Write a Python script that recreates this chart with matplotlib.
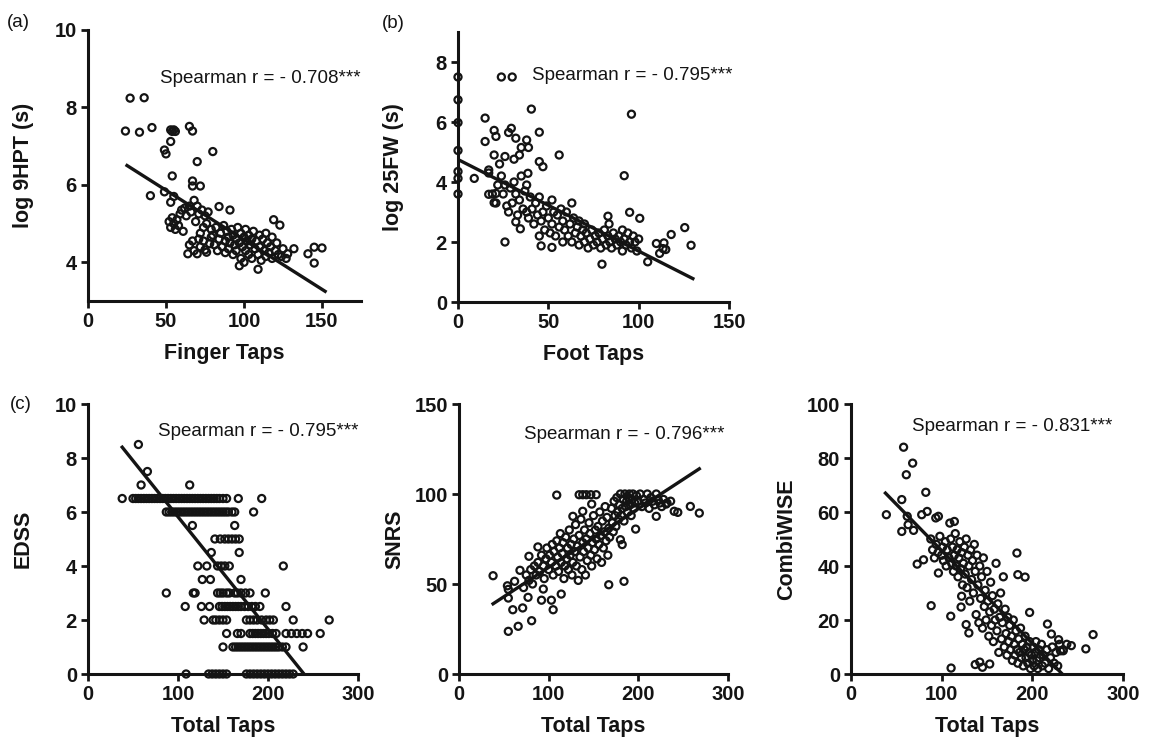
import numpy as np
import matplotlib
matplotlib.use('Agg')
import matplotlib.pyplot as plt
from matplotlib import font_manager

plt.rcParams['font.family'] = ['Liberation Sans', 'DejaVu Sans']

# the numbers in the original are set in a narrow bold face; use it if installed
try:
    font_manager.findfont('Liberation Sans Narrow', fallback_to_default=False)
    TICK_FONT, TICK_SIZE = ['Liberation Sans Narrow', 'Liberation Sans'], 17
except ValueError:
    TICK_FONT, TICK_SIZE = ['Liberation Sans', 'DejaVu Sans'], 14.5

# figure size in pixels (dpi 100)
W, H = 1152, 738
INK = '#141414'

# ---------------- data ----------------
# (a) Finger Taps vs log 9HPT
a_pts = [(24, 7.39), (27, 8.24), (33, 7.36), (36, 8.25), (41, 7.48), (40, 5.72), (49, 5.82),
         (49, 6.90), (50, 6.80), (53, 7.42), (54, 7.38), (55, 7.42), (56, 7.38), (53, 7.12),
         (54, 6.23), (53, 5.55), (55, 5.70), (65, 7.51), (67, 7.39), (70, 6.60), (67, 6.10),
         (67, 5.97), (72, 5.97), (80, 6.86),
         (52, 5.05), (53, 4.90), (54, 5.15), (55, 5.00), (56, 4.85), (57, 5.10), (58, 4.95),
         (59, 5.25), (60, 5.35), (61, 4.80), (62, 5.40), (63, 5.20), (65, 5.45), (66, 5.30),
         (68, 5.60), (69, 5.05), (70, 5.45), (71, 5.25), (72, 4.75), (73, 5.35), (74, 4.90),
         (75, 5.20), (76, 5.00), (77, 5.30), (79, 4.85),
         (64, 4.22), (65, 4.45), (67, 4.55), (68, 4.30), (70, 4.22), (71, 4.60), (72, 4.40),
         (74, 4.55), (75, 4.32), (76, 4.26), (78, 4.48), (79, 4.65),
         (80, 4.70), (81, 4.45), (82, 4.90), (83, 4.30), (84, 5.44), (84, 4.60), (85, 4.75),
         (86, 4.40), (87, 4.95), (88, 4.55), (88, 4.25), (89, 4.80), (90, 4.65), (90, 4.35),
         (91, 5.35), (91, 4.50), (92, 4.85), (93, 4.20), (93, 4.70), (94, 4.45), (95, 4.60),
         (95, 4.30), (96, 4.90), (97, 4.50), (97, 3.91), (98, 4.75), (98, 4.10), (99, 4.40),
         (100, 4.65), (100, 4.00), (101, 4.85), (101, 4.30), (102, 4.55), (103, 4.20),
         (103, 4.70), (104, 4.45), (105, 4.60), (105, 4.10), (106, 4.80), (107, 4.35),
         (108, 4.55), (109, 3.82), (109, 4.20), (110, 4.70), (110, 4.40), (111, 4.05),
         (112, 4.60), (113, 4.30), (114, 4.75), (114, 4.15), (115, 4.50), (116, 4.25),
         (117, 4.40), (118, 4.65), (118, 4.10), (119, 5.10), (120, 4.30), (121, 4.50),
         (122, 4.20), (123, 4.96), (124, 4.15), (125, 4.35), (127, 4.10), (128, 4.22),
         (132, 4.35), (141, 4.22), (145, 3.98), (145, 4.39), (150, 4.37)]
a_fit_x = [25, 152]
a_fit_y = [6.5, 3.25]

# (b) Foot Taps vs log 25FW
b_pts = [(0, 7.5), (0, 6.74), (0, 5.98), (0, 5.05), (0, 4.35), (0, 4.12), (0, 3.6),
         (9, 4.12), (15, 6.13), (15, 5.35), (17, 4.4), (17, 3.59), (20, 4.9), (20, 5.72),
         (21, 5.52), (20, 3.31), (21, 3.62), (23, 4.6), (24, 7.5), (26, 4.85), (30, 7.5),
         (28, 5.65), (29.5, 5.79), (26, 2.0), (32, 5.46), (35, 5.15), (31, 4.76), (34, 4.9),
         (38, 5.4), (40.6, 6.43), (39, 5.15), (38.7, 4.29), (45, 5.66), (47, 4.51), (45, 4.68),
         (46, 1.87), (56, 4.9), (52, 1.82), (32, 2.67), (34.5, 2.44), (96, 6.26), (92, 4.21),
         (95, 2.99), (100.6, 2.79), (83, 2.86), (83.6, 2.6), (79.7, 1.26), (118, 2.25),
         (125.5, 2.48), (129, 1.89), (105, 1.34), (111.6, 1.62), (109.8, 1.95), (114, 1.97),
         (113.5, 1.78), (115, 1.75),
         (17, 4.3), (19, 3.6), (21, 3.3), (22, 3.9), (24, 4.2), (25, 3.6), (26, 3.9), (27, 3.2),
         (28, 3.0), (29, 3.8), (30, 3.3), (31, 4.0), (32, 3.6), (33, 2.9), (34, 3.4), (35, 4.2),
         (36, 3.1), (37, 3.7), (38, 3.0), (38, 3.9), (39, 2.8), (40, 3.5),
         (41, 3.1), (42, 2.6), (43, 3.3), (44, 2.9), (45, 2.2), (45, 3.5), (46, 2.7), (47, 3.0),
         (48, 2.4), (49, 3.2), (50, 2.8), (51, 2.3), (52, 3.4), (52, 2.6), (53, 3.0), (54, 2.2),
         (55, 2.9), (56, 2.5), (57, 3.1), (58, 2.0), (58, 2.7), (59, 2.4), (60, 3.0),
         (61, 2.2), (62, 2.6), (63, 3.3), (63, 2.0), (64, 2.8), (65, 2.3), (66, 2.5), (67, 1.9),
         (67, 2.7), (68, 2.2), (69, 2.4), (70, 2.0), (70, 2.6), (71, 2.3), (72, 1.8), (73, 2.1),
         (74, 2.4), (75, 1.9), (76, 2.2), (77, 2.0), (78, 2.3), (79, 1.8), (80, 2.1),
         (81, 2.4), (82, 1.9), (83, 2.2), (84, 2.0), (85, 1.8), (86, 2.3), (87, 2.1), (88, 1.9),
         (89, 2.2), (90, 2.0), (91, 1.7), (91, 2.4), (92, 2.1), (93, 1.9), (94, 2.3), (95, 2.0),
         (96, 1.8), (97, 2.2), (98, 2.0), (99, 1.7), (100, 2.1)]
b_fit_x = [0, 130]
b_fit_y = [4.75, 0.78]

# (c) Total Taps vs EDSS, one row per EDSS step
edss_rows = {
    8.5: [56],
    7.5: [66],
    7.0: [59, 113],
    6.5: [38, 50, 53, 56, 59, 62, 65, 68, 71, 74, 77, 80, 83, 86, 89, 92, 95, 98, 101, 104,
          107, 110, 113, 116, 119, 122, 125, 128, 131, 134, 137, 140, 143, 146, 150, 154,
          167, 193],
    6.0: [87, 90, 93, 96, 99, 102, 105, 108, 111, 114, 117, 120, 123, 126, 129, 132, 135,
          138, 141, 144, 147, 150, 153, 156, 160, 163, 184],
    5.5: [116, 163],
    5.0: [141, 147, 152, 156, 160, 164, 168],
    4.5: [137, 168],
    4.0: [122, 132, 144, 148, 152, 157, 217],
    3.5: [127, 136, 170],
    3.0: [87, 117, 119, 144, 147, 150, 154, 157, 163, 166, 170, 175, 180, 197],
    2.5: [108, 126, 135, 146, 149, 152, 155, 158, 161, 164, 167, 170, 174, 178, 182, 186,
          191, 220],
    2.0: [129, 139, 142, 146, 150, 154, 176, 180, 184, 188, 193, 198, 202, 206, 228, 268],
    1.5: [154, 166, 170, 180, 183, 186, 189, 192, 195, 198, 201, 205, 209, 220, 226, 232,
          238, 244, 258],
    1.0: [150, 161, 164, 167, 170, 173, 176, 179, 182, 185, 188, 191, 194, 197, 200, 203,
          206, 209, 212, 216, 220, 239],
    0.0: [109, 134, 138, 142, 146, 150, 154, 176, 180, 184, 188, 192, 196, 200, 204, 208,
          212, 216, 220, 224, 228],
}
edss_fit_x = [38, 240]
edss_fit_y = [8.4, 0]

# Total Taps vs SNRS
snrs_pts = [(38, 54.6), (54, 49), (55, 47), (62, 51.5), (55, 42.2), (55, 23.7), (66, 26.5),
            (60, 35.7), (71, 36.7), (81, 29.6), (77, 42.6), (92, 41), (103, 41), (105, 35.7),
            (114, 44.4), (94, 47.2), (78, 65.4), (88, 70.6), (109, 99.4), (68, 57.6),
            (134, 99.6), (138, 99.6), (142, 99.6), (147, 99.6), (153, 99.6), (127, 87.6),
            (138, 90.4), (148, 94.4), (167, 49.6), (184, 51.5), (182, 71.9), (180, 74.6),
            (197, 80.5), (220, 87.6), (240, 90.4), (244, 89.8), (258, 93.1), (268, 89.4),
            (231, 94.4),
            (72, 48), (75, 55), (78, 52), (80, 58), (82, 50), (84, 60), (86, 55), (88, 62),
            (90, 57), (92, 66), (94, 60), (95, 53), (97, 64), (98, 70), (100, 58), (101, 66),
            (103, 62), (104, 72), (105, 55), (106, 68), (108, 60), (109, 74), (110, 65),
            (111, 57), (112, 70), (113, 78), (114, 62), (115, 67), (116, 73), (117, 53),
            (118, 60), (119, 76), (120, 64), (121, 70), (122, 58), (123, 80), (124, 66),
            (125, 72), (126, 55), (127, 62), (128, 75), (129, 68), (130, 83), (131, 60),
            (132, 71), (133, 52), (134, 77), (135, 65), (136, 86), (137, 58), (138, 73),
            (139, 68), (140, 80), (141, 55), (142, 75), (143, 63), (144, 70), (145, 84),
            (146, 78), (147, 66), (148, 60), (149, 73), (150, 88), (151, 69), (152, 80),
            (153, 75), (154, 64), (155, 82), (156, 72), (157, 90), (158, 77), (159, 62),
            (160, 85), (161, 70), (162, 79), (163, 93), (164, 74), (165, 87), (166, 66),
            (167, 81), (168, 76), (170, 92), (171, 84), (172, 79), (173, 96), (174, 88),
            (175, 82), (176, 98), (177, 90), (178, 86), (179, 94), (180, 100), (181, 88),
            (182, 92), (183, 97), (184, 85), (185, 100), (186, 93), (187, 96), (188, 90),
            (189, 98), (190, 100), (191, 94), (192, 88), (193, 97), (194, 100), (195, 92),
            (196, 95), (198, 99), (200, 96), (202, 100), (204, 93), (206, 97), (208, 95),
            (210, 100), (212, 92), (214, 98), (216, 96), (218, 94), (220, 100), (222, 97),
            (224, 95), (226, 93), (228, 97), (232, 95), (236, 96)]
snrs_fit_x = [38, 268]
snrs_fit_y = [39, 114]

# Total Taps vs CombiWISE
combi_pts = [(39, 59), (58, 84), (61, 73.8), (68, 78.1), (56, 64.6), (56, 52.8), (62, 58.4),
             (63, 55.3), (69, 53.2), (73, 40.7), (80, 42.3), (82.5, 67.3), (78, 59), (84, 60.2),
             (93.5, 57.8), (96.4, 58.4), (88.4, 25.3), (96.4, 37.4), (109, 55.9), (114, 56.5),
             (110, 21.4), (110.4, 2.2), (122, 28.8), (121.4, 24.8), (127, 18.3), (130, 15.2),
             (137, 3.5), (142, 4.4), (145, 2.5), (153, 3.7), (183, 44.8), (184, 36.8),
             (192, 35.9), (197, 22.8), (216.7, 18.5), (221, 14.8), (243, 10.5), (259, 9.3),
             (267, 14.6), (229, 12.7), (231, 8.6), (234, 8.6),
             (88, 50), (90, 46), (92, 43), (94, 48), (96, 45), (98, 51), (100, 44), (101, 47),
             (102, 42), (104, 49), (105, 40), (106, 46), (108, 43), (110, 50), (111, 41),
             (112, 47), (113, 38), (114, 44), (115, 52), (116, 40), (117, 46), (118, 36),
             (119, 43), (120, 49), (121, 39), (122, 45), (123, 33), (124, 41), (125, 47),
             (126, 37), (127, 50), (128, 32), (129, 44), (130, 40), (131, 27), (132, 46),
             (133, 35), (134, 42), (135, 30), (136, 48), (137, 38), (138, 22), (139, 44),
             (140, 33), (141, 19), (142, 40), (143, 28), (144, 36), (145, 17), (146, 43),
             (147, 25), (148, 31), (149, 20), (150, 38), (151, 27), (152, 14), (153, 23),
             (154, 34), (155, 18), (156, 29), (157, 12), (158, 24), (159, 20), (160, 41),
             (161, 16), (162, 26), (163, 8), (164, 21), (165, 30), (166, 13), (167, 19),
             (168, 36), (169, 10), (170, 24), (171, 15), (172, 7), (173, 21), (174, 12),
             (175, 18), (176, 9), (177, 14), (178, 5), (179, 20), (180, 11), (181, 7),
             (182, 16), (183, 9), (184, 4), (185, 13), (186, 8), (187, 17), (188, 6),
             (189, 11), (190, 3), (191, 9), (192, 14), (193, 6), (194, 10), (195, 4),
             (196, 8), (197, 12), (198, 2), (199, 7), (200, 5), (201, 10), (202, 3), (203, 8),
             (204, 12), (205, 5), (206, 2), (207, 9), (208, 6), (210, 11), (211, 3), (212, 7),
             (214, 4), (216, 9), (218, 2), (220, 6), (222, 10), (224, 4), (226, 8), (228, 3),
             (230, 11), (234, 9), (238, 11)]
combi_fit_x = [38, 233]
combi_fit_y = [67, 0]


def add_panel(fig, box, pts, fit_x, fit_y, xlim, ylim, xticks, yticks,
              xlabel, ylabel, rho, text_xy):
    # box = left, top, right, bottom in pixels
    l, t, r, b = box
    ax = fig.add_axes([l / W, 1 - b / H, (r - l) / W, (b - t) / H])
    xs = [p[0] for p in pts]
    ys = [p[1] for p in pts]
    ax.scatter(xs, ys, s=26, facecolors='none', edgecolors=INK, linewidths=1.6,
               clip_on=False, zorder=3)
    ax.plot(fit_x, fit_y, color=INK, lw=2.4, zorder=4)

    ax.set_xlim(*xlim)
    ax.set_ylim(*ylim)
    for side in ['top', 'right']:
        ax.spines[side].set_visible(False)
    for side in ['left', 'bottom']:
        ax.spines[side].set_linewidth(2.2)
        ax.spines[side].set_color(INK)
        ax.spines[side].set_zorder(2)
    ax.tick_params(direction='out', length=5, width=2, pad=3, colors=INK)
    ax.set_xticks(xticks)
    ax.set_xticklabels([str(v) for v in xticks], fontsize=TICK_SIZE, fontweight='bold',
                       family=TICK_FONT)
    ax.set_yticks(yticks)
    ax.set_yticklabels([str(v) for v in yticks], fontsize=TICK_SIZE, fontweight='bold',
                       family=TICK_FONT)

    ax.set_xlabel(xlabel, fontsize=15.5, fontweight='bold', color=INK)
    ax.set_ylabel(ylabel, fontsize=15.5, fontweight='bold', color=INK)
    ax.xaxis.set_label_coords(0.5, -42 / (b - t))
    ax.yaxis.set_label_coords(-54 / (r - l), 0.5)

    fig.text(text_xy[0] / W, 1 - text_xy[1] / H, f'Spearman r = {rho}',
             fontsize=13.5, ha='left', va='baseline', color=INK)
    return ax


fig = plt.figure(figsize=(W / 100, H / 100), dpi=100)

add_panel(fig, (88, 30, 361, 301), a_pts, a_fit_x, a_fit_y, (0, 175), (3, 10),
          [0, 50, 100, 150], [4, 6, 8, 10], 'Finger Taps', 'log 9HPT (s)',
          '- 0.708***', (160, 83))

add_panel(fig, (458, 32, 729, 302), b_pts, b_fit_x, b_fit_y, (0, 150), (0, 9),
          [0, 50, 100, 150], [0, 2, 4, 6, 8], 'Foot Taps', 'log 25FW (s)',
          '- 0.795***', (532, 80))

edss_pts = [(x, lvl) for lvl, row in edss_rows.items() for x in row]
add_panel(fig, (88, 404, 358, 674), edss_pts, edss_fit_x, edss_fit_y, (0, 300), (0, 10),
          [0, 100, 200, 300], [0, 2, 4, 6, 8, 10], 'Total Taps', 'EDSS',
          '- 0.795***', (158, 436))

add_panel(fig, (459, 404, 728, 674), snrs_pts, snrs_fit_x, snrs_fit_y, (0, 300), (0, 150),
          [0, 100, 200, 300], [0, 50, 100, 150], 'Total Taps', 'SNRS',
          '- 0.796***', (524, 439))

add_panel(fig, (851, 404, 1123, 674), combi_pts, combi_fit_x, combi_fit_y, (0, 300), (0, 100),
          [0, 100, 200, 300], [0, 20, 40, 60, 80, 100], 'Total Taps', 'CombiWISE',
          '- 0.831***', (912, 431))

# panel letters
fig.text(7 / W, 1 - 27 / H, '(a)', fontsize=13.5, color=INK)
fig.text(382 / W, 1 - 28 / H, '(b)', fontsize=13.5, color=INK)
fig.text(10 / W, 1 - 409 / H, '(c)', fontsize=13.5, color=INK)

fig.savefig('out.png', dpi=100)
